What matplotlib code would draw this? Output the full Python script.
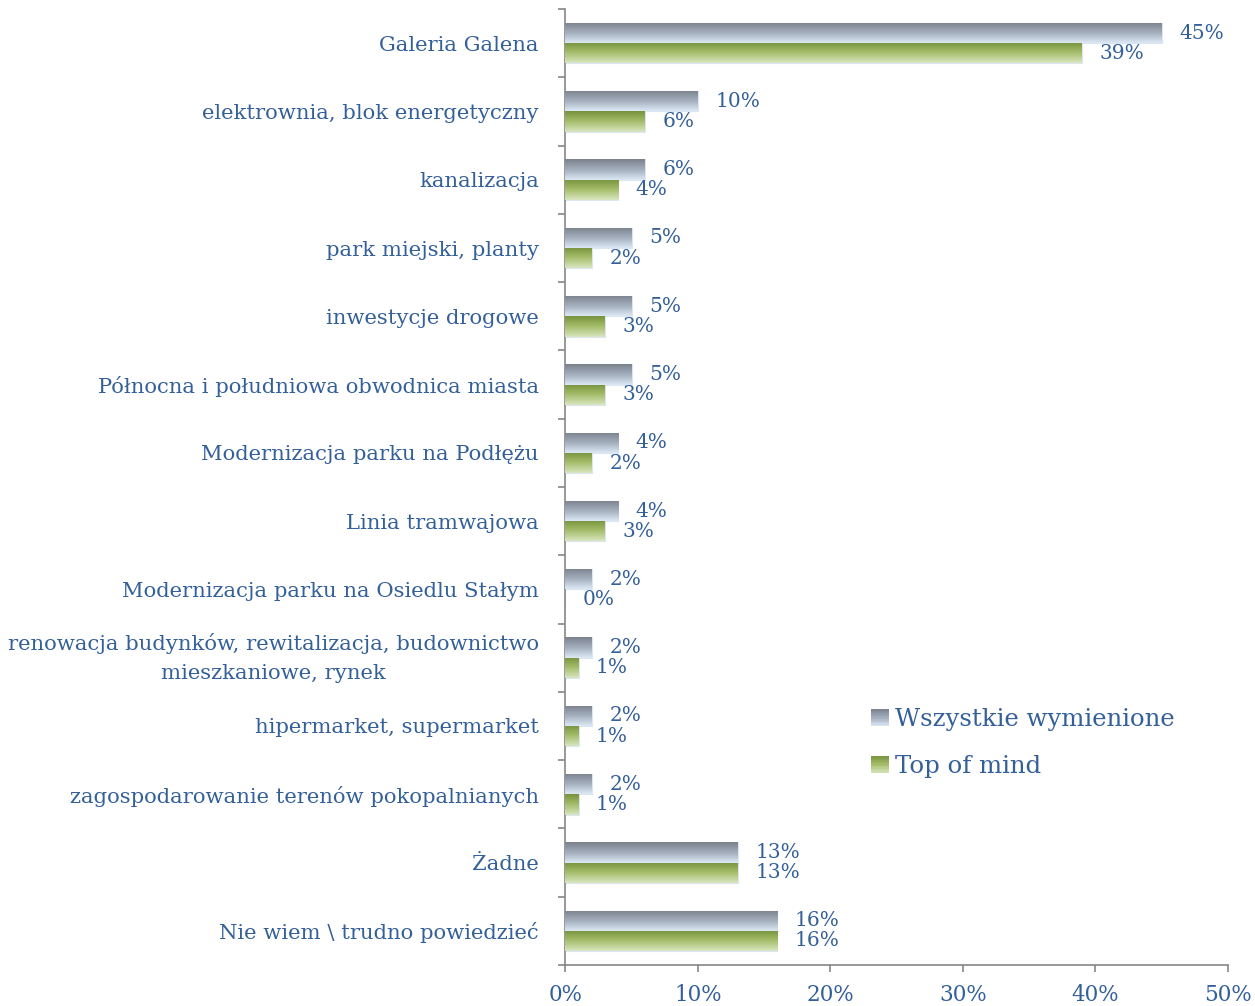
import numpy as np
import matplotlib
matplotlib.use("Agg")
import matplotlib.pyplot as plt
from matplotlib.colors import LinearSegmentedColormap
from matplotlib.patches import Rectangle
from matplotlib.legend_handler import HandlerBase

categories = [
    "Galeria Galena",
    "elektrownia, blok energetyczny",
    "kanalizacja",
    "park miejski, planty",
    "inwestycje drogowe",
    "Północna i południowa obwodnica miasta",
    "Modernizacja parku na Podłężu",
    "Linia tramwajowa",
    "Modernizacja parku na Osiedlu Stałym",
    "renowacja budynków, rewitalizacja, budownictwo\nmieszkaniowe, rynek",
    "hipermarket, supermarket",
    "zagospodarowanie terenów pokopalnianych",
    "Żadne",
    "Nie wiem \\ trudno powiedzieć",
]
wszystkie = [45, 10, 6, 5, 5, 5, 4, 4, 2, 2, 2, 2, 13, 16]
top_of_mind = [39, 6, 4, 2, 3, 3, 2, 3, 0, 1, 1, 1, 13, 16]
series_names = ["Wszystkie wymienione", "Top of mind"]
xticks = [0, 10, 20, 30, 40, 50]

TEXT = "#34609a"
SPINE = "#868686"
GRAY_GRAD = ["#7b828d", "#a3aebd", "#dde8f5"]
GREEN_GRAD = ["#77933c", "#a6be6b", "#d9e5bf"]
FONT = "DejaVu Serif"

plt.rcParams["font.family"] = [FONT, "DejaVu Sans"]

fig = plt.figure(figsize=(12.55, 10.06), dpi=100)
ax = fig.add_axes([0.4505, 0.0408, 0.528, 0.9502])

n = len(categories)
y = np.arange(n)
h = 0.297


def grad_cmap(cols):
    return LinearSegmentedColormap.from_list("g", cols)


gray_cmap = grad_cmap(GRAY_GRAD)
green_cmap = grad_cmap(GREEN_GRAD)
grad = np.linspace(0, 1, 64).reshape(-1, 1)

bars1 = ax.barh(y - h / 2, wszystkie, height=h, color=GRAY_GRAD[1],
                edgecolor="#dbe6f3", linewidth=0.8, zorder=2)
bars2 = ax.barh(y + h / 2, top_of_mind, height=h, color=GREEN_GRAD[1],
                edgecolor="#dbe6f3", linewidth=0.8, zorder=2)

for bars, cmap in ((bars1, gray_cmap), (bars2, green_cmap)):
    for b in bars:
        x0, y0 = b.get_x(), b.get_y()
        w, hh = b.get_width(), b.get_height()
        if w <= 0:
            continue
        im = ax.imshow(grad, cmap=cmap, aspect="auto", origin="upper",
                       extent=(x0, x0 + w, y0 + hh, y0), zorder=3,
                       interpolation="bilinear")
        im.set_clip_path(b)

ax.set_xlim(0, 50)
ax.set_ylim(n - 0.5, -0.5)

# data labels
for bars, vals in ((bars1, wszystkie), (bars2, top_of_mind)):
    for b, v in zip(bars, vals):
        ax.annotate(f"{v}%", (v, b.get_y() + b.get_height() / 2),
                    xytext=(12.5, 0), textcoords="offset points",
                    ha="left", va="center", color=TEXT, fontsize=14.5,
                    zorder=5)

# axes styling
for s in ("top", "right"):
    ax.spines[s].set_visible(False)
for s in ("left", "bottom"):
    ax.spines[s].set_color(SPINE)
    ax.spines[s].set_linewidth(1.2)

ax.set_yticks(y)
ax.set_yticklabels(categories, color=TEXT, fontsize=15.2, linespacing=1.65)
ax.tick_params(axis="y", which="major", length=0, pad=19)
ax.set_yticks(np.arange(-0.5, n, 1), minor=True)
ax.tick_params(axis="y", which="minor", length=5, width=1.2, color=SPINE,
               direction="out")
for lab in ax.get_yticklabels():
    lab.set_horizontalalignment("right")
    lab.set_multialignment("center")
    if "\n" in lab.get_text():
        lab.set_verticalalignment("center")

ax.set_xticks(xticks)
ax.set_xticklabels([f"{t}%" for t in xticks], color=TEXT, fontsize=15.5)
ax.tick_params(axis="x", length=5, width=1.2, color=SPINE, pad=9)


class GradHandler(HandlerBase):
    def __init__(self, cols):
        super().__init__()
        self.cols = cols

    def create_artists(self, legend, orig_handle, xdescent, ydescent,
                       width, height, fontsize, trans):
        cmap = grad_cmap(self.cols)
        side = min(width, height * 1.0)
        x0 = -xdescent + (width - side)
        y0 = -ydescent + (height - side) / 2
        k = 12
        arts = []
        for i in range(k):
            c = cmap(1 - (i + 0.5) / k)
            r = Rectangle((x0, y0 + side * i / k), side, side / k + 0.3,
                          facecolor=c, edgecolor="none", transform=trans)
            arts.append(r)
        return arts


leg = fig.legend([bars1, bars2], series_names,
                 handler_map={bars1: GradHandler(GRAY_GRAD),
                              bars2: GradHandler(GREEN_GRAD)},
                 loc="upper left", bbox_to_anchor=(0.6944, 0.296),
                 frameon=False, fontsize=17.6, handlelength=0.7,
                 handleheight=0.7, handletextpad=0.25, labelspacing=0.98,
                 borderpad=0, borderaxespad=0)
for t in leg.get_texts():
    t.set_color(TEXT)

fig.savefig("out.png", dpi=100)
